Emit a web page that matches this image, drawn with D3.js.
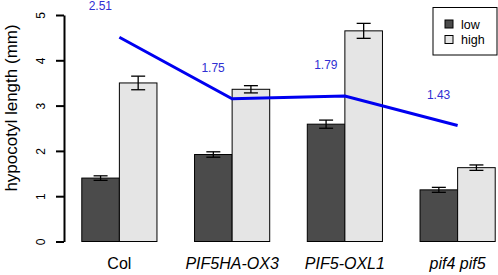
<!DOCTYPE html>
<html>
<head>
<meta charset="utf-8">
<script src="https://cdn.jsdelivr.net/npm/d3@7"></script>
<style>
  body { margin: 0; background: #fff; }
  svg { display: block; font-family: "Liberation Sans", Arial, sans-serif; }
</style>
</head>
<body>
<div id="chart"></div>
<script>
// data
const genotypes = ['Col', 'PIF5HA-OX3', 'PIF5-OXL1', 'pif4 pif5']
const italic = [false, true, true, true]
const lowVals = [1.40, 1.92, 2.59, 1.14]
const lowErr = [0.05, 0.06, 0.09, 0.055]
const highVals = [3.50, 3.36, 4.65, 1.63]
const highErr = [0.15, 0.08, 0.165, 0.06]
const ratioY = [4.51, 3.15, 3.21, 2.56]
const ratioLabels = ['2.51', '1.75', '1.79', '1.43']
const yTicks = [0, 1, 2, 3, 4, 5]
const seriesNames = ['low', 'high']

const W = 498, H = 275
const colors = { low: '#4b4b4b', high: '#e5e5e5' }

const svg = d3.select('#chart').append('svg')
  .attr('width', W)
  .attr('height', H)

const y = d3.scaleLinear().domain([0, 5]).range([241.5, 15])

const x = d3.scaleBand()
  .domain(genotypes)
  .range([63, 514])
  .paddingInner(1 / 3)
  .paddingOuter(1 / 6)

const xSub = d3.scaleBand().domain(seriesNames).range([0, x.bandwidth()])

let rows = genotypes.map(function (g, i) {
  return [
    { g: g, s: 'low', v: lowVals[i], e: lowErr[i] },
    { g: g, s: 'high', v: highVals[i], e: highErr[i] }
  ]
}).flat()

// bars
svg.append('g').selectAll('rect')
  .data(rows)
  .join('rect')
  .attr('x', d => x(d.g) + xSub(d.s))
  .attr('y', d => y(d.v))
  .attr('width', xSub.bandwidth())
  .attr('height', d => y(0) - y(d.v))
  .attr('fill', d => colors[d.s])
  .attr('stroke', '#000')
  .attr('stroke-width', 1)

// error bars
let eb = svg.append('g')
  .attr('stroke', '#000')
  .attr('stroke-width', 1.3)
  .selectAll('g')
  .data(rows)
  .join('g')
  .attr('transform', d => 'translate(' + (x(d.g) + xSub(d.s) + xSub.bandwidth() / 2) + ',0)')
eb.append('line')
  .attr('y1', d => y(d.v - d.e)).attr('y2', d => y(d.v + d.e))
eb.append('line')
  .attr('x1', -7).attr('x2', 7)
  .attr('y1', d => y(d.v + d.e)).attr('y2', d => y(d.v + d.e))
eb.append('line')
  .attr('x1', -7).attr('x2', 7)
  .attr('y1', d => y(d.v - d.e)).attr('y2', d => y(d.v - d.e))

// ratio line
let cx = g => x(g) + x.bandwidth() / 2
let line = d3.line()
  .x((d, i) => cx(genotypes[i]))
  .y(d => y(d))

svg.append('path')
  .attr('d', line(ratioY))
  .attr('fill', 'none')
  .attr('stroke', '#0000f0')
  .attr('stroke-width', 3)

svg.append('g').selectAll('text')
  .data(ratioLabels)
  .join('text')
  .attr('x', (d, i) => cx(genotypes[i]) - 19)
  .attr('y', (d, i) => y(ratioY[i]) - 27)
  .attr('text-anchor', 'middle')
  .attr('font-size', 12)
  .attr('fill', '#2f2fd2')
  .text(d => d)

// y axis
let yAxis = d3.axisLeft(y)
  .tickValues(yTicks)
  .tickFormat(d3.format('d'))
  .tickSize(8)
  .tickSizeOuter(0)
  .tickPadding(0)

let ya = svg.append('g')
  .attr('transform', 'translate(64,0)')
  .call(yAxis)
ya.select('.domain').attr('stroke-width', 2)
ya.selectAll('.tick line').attr('stroke-width', 2)
ya.selectAll('.tick text')
  .attr('font-size', 12)
  .attr('font-family', '"Liberation Sans", Arial, sans-serif')
  .attr('fill', '#000')
  .attr('text-anchor', 'middle')
  .attr('x', 0)
  .attr('dy', 0)
  .attr('transform', 'translate(-19,0) rotate(-90)')

svg.append('text')
  .attr('transform', 'translate(17,108) rotate(-90)')
  .attr('text-anchor', 'middle')
  .attr('font-size', 17)
  .text('hypocotyl length (mm)')

// x labels
svg.append('g').selectAll('text')
  .data(genotypes)
  .join('text')
  .attr('x', d => cx(d))
  .attr('y', 269)
  .attr('text-anchor', 'middle')
  .attr('font-size', 16)
  .attr('font-style', (d, i) => italic[i] ? 'italic' : 'normal')
  .text(d => d)

// legend
let lg = svg.append('g')
lg.append('rect')
  .attr('x', 433).attr('y', 7.5)
  .attr('width', 64).attr('height', 47.5)
  .attr('fill', '#fff').attr('stroke', '#000').attr('stroke-width', 1)
let li = lg.selectAll('g')
  .data(seriesNames)
  .join('g')
  .attr('transform', (d, i) => 'translate(445,' + (24 + i * 15.5) + ')')
li.append('rect')
  .attr('x', 0).attr('y', -4)
  .attr('width', 8).attr('height', 8)
  .attr('fill', d => colors[d]).attr('stroke', '#000')
li.append('text')
  .attr('x', 16).attr('y', 4.5)
  .attr('font-size', 12.5)
  .text(d => d)
</script>
</body>
</html>
